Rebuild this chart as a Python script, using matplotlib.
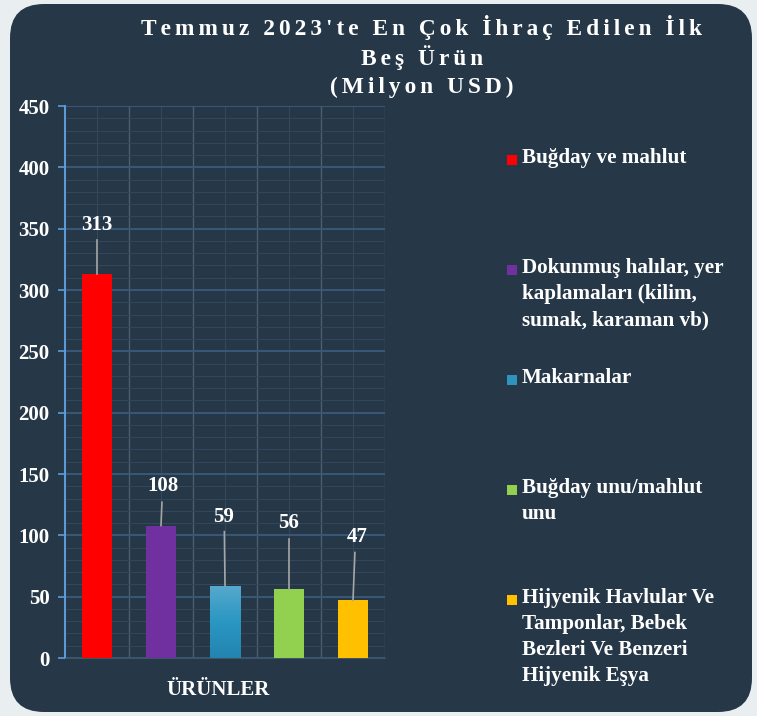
import numpy as np
import matplotlib
matplotlib.use("Agg")
import matplotlib.pyplot as plt
from matplotlib.patches import FancyBboxPatch, Rectangle

# data
products = ["Buğday ve mahlut",
            "Dokunmuş halılar, yer\nkaplamaları (kilim,\nsumak, karaman vb)",
            "Makarnalar",
            "Buğday unu/mahlut\nunu",
            "Hijyenik Havlular Ve\nTamponlar, Bebek\nBezleri Ve Benzeri\nHijyenik Eşya"]
values = [313, 108, 59, 56, 47]
colors = ["#ff0000", "#7030a0", "#2e94be", "#92d050", "#ffc000"]
yticks = [0, 50, 100, 150, 200, 250, 300, 350, 400, 450]

# label placement (offset above bar top, data units) and leader line tip
label_off = [40, 32, 56, 54, 52]
line_off = [28, 19, 44, 41, 39]
label_dx = [0.0, 0.03, -0.02, 0.0, 0.06]

plt.rcParams['font.family'] = ['Liberation Serif', 'DejaVu Serif']
plt.rcParams['font.weight'] = 'bold'

bg = "#263747"
fig = plt.figure(figsize=(7.57, 7.16), dpi=100)
fig.patch.set_facecolor("#e9eff1")
card = FancyBboxPatch((10, 4), 742, 708, boxstyle="round,pad=0,rounding_size=34",
                      transform=None, facecolor=bg, edgecolor="none", zorder=-5)
fig.patches.append(card)

ax = fig.add_axes([65 / 757, 58 / 716, 320 / 757, 552 / 716])
ax.set_zorder(2)
ax.set_facecolor(bg)
x = np.arange(len(values))
bars = ax.bar(x, values, width=0.47, color=colors, zorder=3)

# gradient on the third bar
b = bars[2]
grad = np.linspace(0, 1, 100).reshape(-1, 1)
cmap = matplotlib.colors.LinearSegmentedColormap.from_list("g", ["#2384b0", "#2a97c2", "#57a9cc"])
im = ax.imshow(grad, extent=[b.get_x(), b.get_x() + b.get_width(), 0, b.get_height()],
               origin="lower", aspect="auto", cmap=cmap, zorder=3.5)
im.set_clip_path(b)

ax.set_xlim(-0.5, 4.5)
ax.set_ylim(0, 450)
ax.set_yticks(yticks)
ax.set_yticks(np.arange(0, 451, 10), minor=True)
ax.set_xticks([])
ax.yaxis.grid(True, which="major", color="#3b5a7a", lw=1.3, zorder=0)
ax.yaxis.grid(True, which="minor", color="#31475c", lw=0.8, zorder=0)
for xv in np.arange(0.5, 4.5, 1):
    ax.axvline(xv, color="#4b5d6e", lw=1.0, zorder=0.5)
for xv in x:
    ax.axvline(xv, color="#34495c", lw=0.8, zorder=0.5)
ax.axvline(4.5, color="#3e5366", lw=1.0, zorder=0.5)

ax.tick_params(axis="y", which="major", colors="#5b9bd5", length=5, width=1.2,
               labelcolor="white", labelsize=15, pad=6)
ax.tick_params(axis="y", which="minor", length=0)
for lab in ax.get_yticklabels():
    lab.set_fontweight("bold")
for s in ["top", "right"]:
    ax.spines[s].set_visible(False)
ax.spines["left"].set_color("#5b9bd5")
ax.spines["left"].set_linewidth(1.5)
ax.spines["bottom"].set_color("#3e5366")
ax.set_xlabel("ÜRÜNLER", color="white", fontsize=15, fontweight="bold")
ax.xaxis.set_label_coords(0.478, -0.058)
ax.xaxis.label.set_va("center")

for i, v in enumerate(values):
    ax.plot([i, i + label_dx[i] * 0.5], [v, v + line_off[i]], color="#a6a6a6", lw=1.2, zorder=4)
    ax.text(i + label_dx[i], v + label_off[i], str(v), color="white", fontsize=15,
            fontweight="bold", ha="center", va="center", zorder=5)

# title with letter spacing
def spaced(s):
    return "\u200a\u200a".join(s)

title = [spaced("Temmuz 2023'te En Çok İhraç Edilen İlk"), spaced("Beş Ürün"), spaced("(Milyon USD)")]
for k, t in enumerate(title):
    fig.text(422 / 757, 1 - (28 + 29.5 * k) / 716, t, color="white", fontsize=16.8,
             fontweight="bold", ha="center", va="center")

# legend
for i, name in enumerate(products):
    ytop = 160 + 110 * i
    fig.patches.append(Rectangle((507, 716 - ytop - 5), 10, 10, transform=None,
                                 facecolor=colors[i], edgecolor="none"))
    fig.text(522 / 757, 1 - (ytop - 12) / 716, name, color="white", fontsize=15.2,
             fontweight="bold", ha="left", va="top", linespacing=1.4)

fig.savefig("out.png", dpi=100, facecolor=fig.get_facecolor())
